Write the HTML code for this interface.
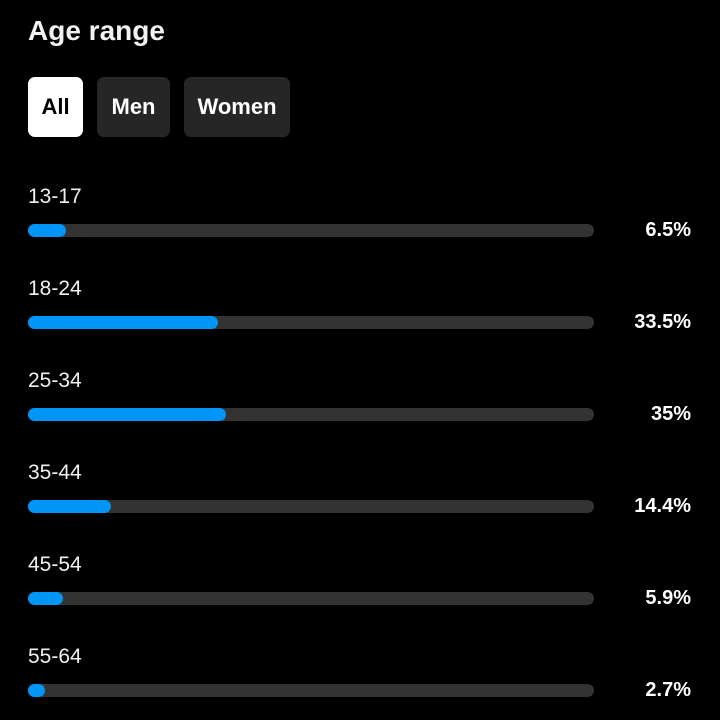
<!DOCTYPE html>
<html><head><meta charset="utf-8"><style>
html,body{margin:0;padding:0;background:#000;width:720px;height:720px;overflow:hidden;font-family:"Liberation Sans",sans-serif;}
.title{position:absolute;left:28px;top:15px;font-size:28px;font-weight:bold;color:#f2f2f2;}
.btn{position:absolute;top:77px;height:60px;border-radius:7px;background:#262626;color:#fff;font-weight:bold;font-size:22px;line-height:60px;text-align:center;}
.lbl{position:absolute;left:28px;font-size:21px;color:#f0f0f0;}
.pct{position:absolute;right:29px;font-size:20px;font-weight:bold;color:#fff;text-align:right;}
.track{position:absolute;left:28px;width:566px;height:13px;border-radius:7px;background:#333;}
.fill{position:absolute;left:0;top:0;height:13px;border-radius:7px;background:#0095f6;}
</style></head><body>
<div class="title">Age range</div>
<div class="btn" style="left:28px;width:55px;background:#fff;color:#000;">All</div>
<div class="btn" style="left:97px;width:73px;">Men</div>
<div class="btn" style="left:184px;width:106px;">Women</div>
<div id="rows"></div>
<script>
const categories = ["13-17","18-24","25-34","35-44","45-54","55-64"];
const values = [6.5,33.5,35,14.4,5.9,2.7];
const valueLabels = ["6.5%","33.5%","35%","14.4%","5.9%","2.7%"];
function xScale(v){ return 2 + v*5.6; }
function rowY(i){ return 224 + i*92; }
const root=document.getElementById('rows');
categories.forEach((c,i)=>{
  const y=rowY(i);
  const l=document.createElement('div'); l.className='lbl'; l.style.top=(y-39)+'px'; l.textContent=c;
  
  
  root.appendChild(l);
  const t=document.createElement('div'); t.className='track'; t.style.top=y+'px';
  
  
  const f=document.createElement('div'); f.className='fill'; f.style.width=xScale(values[i])+'px';
  
  
  t.appendChild(f); root.appendChild(t);
  const p=document.createElement('div'); p.className='pct'; p.style.top=(y-5)+'px'; p.textContent=valueLabels[i];
  
  
  root.appendChild(p);
});
</script>
</body></html>
